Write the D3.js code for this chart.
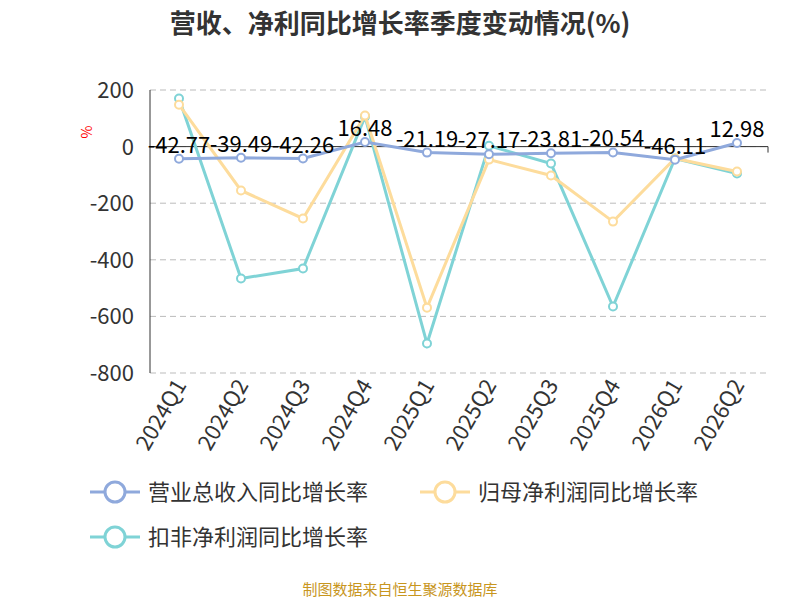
<!DOCTYPE html>
<html><head><meta charset="utf-8">
<script src="https://cdn.jsdelivr.net/npm/d3@7"></script>
<style>body{margin:0;background:#fff;font-family:"Noto Sans CJK SC","Noto Sans",sans-serif}</style>
</head><body><svg id="c" width="800" height="600"></svg>
<script>
const categories = ["2024Q1","2024Q2","2024Q3","2024Q4","2025Q1","2025Q2","2025Q3","2025Q4","2026Q1","2026Q2"]
const revenue = [-42.77,-39.49,-42.26,16.48,-21.19,-27.17,-23.81,-20.54,-46.11,12.98]
const netProfit = [148,-155,-254,110,-569,-46,-102,-265,-42,-88]
const deducted = [170,-466,-431,106,-696,3,-60,-565,-42,-95]
const yTicks = [200,0,-200,-400,-600,-800]
const seriesNames = ["营业总收入同比增长率","归母净利润同比增长率","扣非净利润同比增长率"]
const colors = ["#8fa9dc","#fddc9c","#7fd3d6"]

const svg = d3.select("#c")
const x = d3.scalePoint().domain(categories).range([179,737])
const y = d3.scaleLinear().domain([-800,200]).range([373,90])

svg.append("text").attr("x",400).attr("y",33).attr("text-anchor","middle")
    .attr("font-size",26).attr("font-weight","bold").attr("fill","#333")
    .text("营收、净利同比增长率季度变动情况(%)")

// grid
svg.selectAll(".g").data(yTicks).join("line")
    .attr("x1",150).attr("x2",768).attr("y1",d=>y(d)).attr("y2",d=>y(d))
    .attr("stroke","#bbb").attr("stroke-dasharray","6,4")
svg.selectAll(".yt").data(yTicks).join("text")
    .attr("x",134).attr("y",d=>y(d)+8).attr("text-anchor","end")
    .attr("font-size",22).attr("fill","#333").text(d=>d)
svg.append("line").attr("x1",150).attr("x2",150).attr("y1",90).attr("y2",373).attr("stroke","#333")
svg.append("line").attr("x1",150).attr("x2",768).attr("y1",y(0)).attr("y2",y(0)).attr("stroke","#333")
svg.append("line").attr("x1",768).attr("x2",768).attr("y1",y(0)).attr("y2",y(0)+6).attr("stroke","#333")
svg.append("text").attr("transform","translate(92,132) rotate(-90)").attr("text-anchor","middle")
    .attr("font-size",14).attr("fill","red").text("%")

categories.forEach(c=>{
    svg.append("text").attr("transform",`translate(${x(c)+8},385) rotate(-60)`)
        .attr("text-anchor","end").attr("font-size",22).attr("fill","#333").text(c)
})

const line = d3.line().x((d,i)=>x(categories[i])).y(d=>y(d))
;[deducted,netProfit,revenue].forEach((s,k)=>{
    const col = colors[2-k]
    svg.append("path").attr("d",line(s)).attr("fill","none").attr("stroke",col).attr("stroke-width",3)
    svg.selectAll(null).data(s).join("circle")
        .attr("cx",(d,i)=>x(categories[i])).attr("cy",d=>y(d)).attr("r",4)
        .attr("fill","#fff").attr("stroke",col).attr("stroke-width",2)
})
svg.selectAll(".lb").data(revenue).join("text")
    .attr("x",(d,i)=>x(categories[i])).attr("y",d=>y(d)-6).attr("text-anchor","middle")
    .attr("font-size",22).attr("fill","#000").text(d=>d)

const leg = [[90,492],[420,492],[90,537]]
seriesNames.forEach((n,i)=>{
    const g = svg.append("g").attr("transform",`translate(${leg[i][0]},${leg[i][1]})`)
    g.append("line").attr("x1",0).attr("x2",50).attr("stroke",colors[i]).attr("stroke-width",3)
    g.append("circle").attr("cx",25).attr("r",10).attr("fill","#fff").attr("stroke",colors[i]).attr("stroke-width",3)
    g.append("text").attr("x",58).attr("y",8).attr("font-size",22).attr("fill","#333").text(n)
})
svg.append("text").attr("x",400).attr("y",595).attr("text-anchor","middle")
    .attr("font-size",15).attr("fill","#c8961e").text("制图数据来自恒生聚源数据库")
</script></body></html>
